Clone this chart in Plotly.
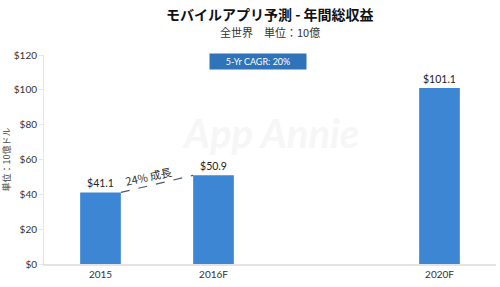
import plotly.graph_objects as go

categories = ["2015", "2016F", "2020F"]
positions = [0, 1, 3]
values = [41.1, 50.9, 101.1]
y_ticks = [0, 20, 40, 60, 80, 100, 120]
y_tick_labels = ["$0", "$20", "$40", "$60", "$80", "$100", "$120"]
title = "モバイルアプリ予測 - 年間総収益"
subtitle = "全世界　単位：10億"
y_title = "単位：10億ドル"
cagr_text = "5-Yr CAGR: 20%"
growth_text = "24% 成長"

BAR = "#3c86d3"
FONT = "Lato, 'Noto Sans CJK JP', sans-serif"
JP = "'Noto Sans CJK JP', sans-serif"
bw = 0.36
H, T, B = 287, 55, 23
PH = H - T - B


def py(pix):
    """pixel row from top -> paper y"""
    return (H - B - pix) / PH


fig = go.Figure()
fig.add_trace(go.Bar(
    x=positions, y=values, width=bw, marker=dict(color=BAR, line=dict(width=0)),
    text=[f"${v:.1f}" for v in values], textposition="outside",
    textfont=dict(size=10.5, color="#222", family=FONT), cliponaxis=False,
))

# dashed growth line between bar tops
fig.add_shape(type="line", xref="x", yref="y",
              x0=positions[0] + bw / 2, y0=values[0],
              x1=positions[1] - bw / 2, y1=values[1],
              line=dict(color="#4a5a6a", width=1.2, dash="dash"))
fig.add_annotation(x=(positions[0] + positions[1]) / 2, y=(values[0] + values[1]) / 2,
                   text=growth_text, showarrow=False, textangle=-12, yshift=8, xshift=-9,
                   font=dict(size=11, color="#333", family=JP))

# watermark
fig.add_annotation(x=0.5, y=py(133), xref="paper", yref="paper", text="<b><i>App Annie</i></b>",
                   showarrow=False, font=dict(size=40, color="#f6f6f6", family="Lato"),
                   yanchor="middle", xanchor="center")

# CAGR box
fig.add_annotation(x=0.473, y=py(61), xref="paper", yref="paper", text=cagr_text,
                   showarrow=False, bgcolor="#2f74b8", width=94, height=13,
                   font=dict(size=9, color="white", family=FONT),
                   yanchor="middle", xanchor="center")

# title and subtitle
fig.add_annotation(x=0.5, y=py(14), xref="paper", yref="paper", text=f"<b>{title}</b>",
                   showarrow=False, font=dict(size=14, color="#111", family=JP),
                   yanchor="middle", xanchor="center")
fig.add_annotation(x=0.5, y=py(32), xref="paper", yref="paper", text=subtitle,
                   showarrow=False, font=dict(size=11, color="#333", family=JP),
                   yanchor="middle", xanchor="center")

fig.update_layout(
    width=500, height=H, margin=dict(l=44, r=4, t=T, b=B),
    paper_bgcolor="white", plot_bgcolor="white", showlegend=False,
    xaxis=dict(range=[-0.5, 3.5], tickvals=positions, ticktext=categories,
               showgrid=False, zeroline=False, showline=True, linecolor="#e3e3e3",
               linewidth=2, ticks="", tickfont=dict(size=10, color="#333", family=FONT)),
    yaxis=dict(range=[0, 120], tickvals=y_ticks, ticktext=y_tick_labels,
               showgrid=False, zeroline=False, showline=True, linecolor="#e6e6e6",
               linewidth=1, ticks="outside", ticklen=4, tickcolor="#e6e6e6",
               tickfont=dict(size=10, color="#333", family=FONT),
               title=dict(text=y_title, font=dict(size=9, color="#444", family=JP), standoff=4)),
)

fig.write_html("out.html")
